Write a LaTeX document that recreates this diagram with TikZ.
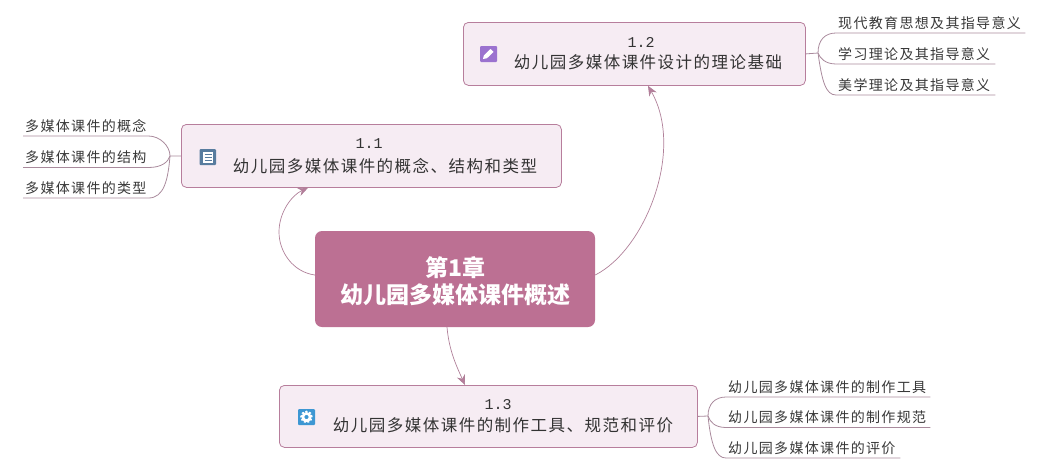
\documentclass[tikz,border=0pt]{standalone}
\usepackage{fontspec}
\usetikzlibrary{arrows.meta}
\newfontfamily\topicfont[LetterSpace=9]{Noto Sans CJK SC}
\newfontfamily\leaffont[LetterSpace=9.5]{Noto Sans CJK SC}
\newfontfamily\rootfont{Noto Sans CJK SC}
\newfontfamily\numfont{Liberation Mono}
\definecolor{rootfill}{HTML}{BC7093}
\definecolor{topicfill}{HTML}{F6ECF3}
\definecolor{topicline}{HTML}{B77E9C}
\definecolor{linkline}{HTML}{B08099}
\definecolor{leafline}{HTML}{A98A9C}
\tikzset{
  rootbox/.style={fill=rootfill,rounded corners=7pt,inner sep=0pt,minimum width=280pt,minimum height=96pt,text=white,align=center},
  topicbox/.style={fill=topicfill,draw=topicline,line width=.8pt,rounded corners=5pt,inner sep=0pt,anchor=north west},
  topictext/.style={inner sep=0pt,font=\topicfont\fontsize{16.5}{18}\selectfont,text=black!80,anchor=center},
  numtext/.style={inner sep=0pt,font=\numfont\fontsize{15}{18}\selectfont,text=black!80,anchor=center},
  leaf/.style={anchor=south west,inner xsep=2pt,inner ysep=3.5pt,align=left,font=\leaffont\fontsize{14}{16}\selectfont,text=black!78},
  link/.style={draw=linkline,line width=.7pt,-{Stealth[length=10pt,width=8.5pt,fill=topicline]}},
  branch/.style={draw=leafline,line width=.8pt}
}
\begin{document}
\begin{tikzpicture}[x=1pt,y=-1pt]
\useasboundingbox (0,0) rectangle (1048,469);
\node[rootbox] (root) at (455,279) {\rootfont\bfseries\fontsize{23}{28}\selectfont \rule{0pt}{25pt}第1章\\[4pt] \rootfont\bfseries\fontsize{23}{28}\selectfont 幼儿园多媒体课件概述};
\node[topicbox,minimum width=380pt,minimum height=63pt] (t1) at (181,124) {};
\node[topicbox,minimum width=342pt,minimum height=63pt] (t2) at (463,22) {};
\node[topicbox,minimum width=418pt,minimum height=62pt] (t3) at (279,385) {};
\node[numtext] (n1) at (369,144) {1.1};
\node[topictext] (l1) at (385,166.5) {幼儿园多媒体课件的概念、结构和类型};
\node[numtext] (n2) at (641,42) {1.2};
\node[topictext] (l2) at (648,62.5) {幼儿园多媒体课件设计的理论基础};
\node[numtext] (n3) at (498,405) {1.3};
\node[topictext] (l3) at (503,425.5) {幼儿园多媒体课件的制作工具、规范和评价};
% icons
\fill[rounded corners=1pt,fill={rgb,255:red,88;green,124;blue,158}] (199.5,149) rectangle (216,165);
\fill[white] (202.5,151.5) rectangle (213,163);
\foreach \yy in {154,157,160}{\draw[line width=.9pt,color={rgb,255:red,88;green,124;blue,158}] (204.5,\yy) -- (211.5,\yy);}
\fill[rounded corners=1pt,fill={rgb,255:red,155;green,114;blue,207}] (480,46) rectangle (497,62);
\fill[white] (483,59) -- (483.8,55.5) -- (490.5,49) -- (493.5,52) -- (487,58.2) -- cycle;
\fill[rounded corners=1pt,fill={rgb,255:red,61;green,151;blue,211}] (298,409) rectangle (315,425);
\draw[white,line width=2pt,dash pattern=on 2pt off 1.6pt] (306.5,417) circle (5.3pt);
\draw[white,line width=2.6pt] (306.5,417) circle (3.6pt);
% links
\draw[link] ([yshift=4pt]root.west) .. controls (293,272) and (279,252) .. (279,232) .. controls (279,212) and (292,195) .. ([xshift=127pt]t1.south west);
\draw[link] ([yshift=4pt]root.east) .. controls (645,250) and (685,150) .. ([xshift=185pt]t2.south west);
\draw[link] ([xshift=-8pt]root.south) .. controls (449,350) and (456,365) .. ([xshift=186pt]t3.north west);
% leaves for 1.2
\node[leaf,text width=185pt] (a1) at (836,33) {现代教育思想及其指导意义};
\node[leaf,text width=155pt] (a2) at (836,64) {学习理论及其指导意义};
\node[leaf,text width=155pt] (a3) at (836,95) {美学理论及其指导意义};
\coordinate (fa) at (818,53);
\draw[branch] (t2.east) -- (fa);
\draw[branch] (fa) .. controls (818,40) and (825,33) .. (a1.south west) -- (a1.south east);
\draw[branch] (fa) .. controls (820,58) and (825,64) .. (a2.south west) -- (a2.south east);
\draw[branch] (fa) .. controls (822,82) and (826,95) .. (a3.south west) -- (a3.south east);
% leaves for 1.1
\node[leaf,text width=121pt] (b1) at (23,136) {多媒体课件的概念};
\node[leaf,text width=121pt] (b2) at (23,167.5) {多媒体课件的结构};
\node[leaf,text width=121pt] (b3) at (23,198) {多媒体课件的类型};
\coordinate (fb) at (170,156);
\draw[branch] (t1.west) -- (fb);
\draw[branch] (fb) .. controls (170,146) and (160,136) .. (b1.south east) -- (b1.south west);
\draw[branch] (fb) .. controls (168,162) and (162,167.5) .. (b2.south east) -- (b2.south west);
\draw[branch] (fb) .. controls (168,180) and (164,198) .. (b3.south east) -- (b3.south west);
% leaves for 1.3
\node[leaf,text width=200pt] (c1) at (726,397) {幼儿园多媒体课件的制作工具};
\node[leaf,text width=200pt] (c2) at (726,427.5) {幼儿园多媒体课件的制作规范};
\node[leaf,text width=170pt] (c3) at (726,458) {幼儿园多媒体课件的评价};
\coordinate (fc) at (708,416);
\draw[branch] (t3.east) -- (fc);
\draw[branch] (fc) .. controls (708,404) and (715,397) .. (c1.south west) -- (c1.south east);
\draw[branch] (fc) .. controls (710,422) and (715,427.5) .. (c2.south west) -- (c2.south east);
\draw[branch] (fc) .. controls (711,445) and (716,458) .. (c3.south west) -- (c3.south east);
\end{tikzpicture}
\end{document}
